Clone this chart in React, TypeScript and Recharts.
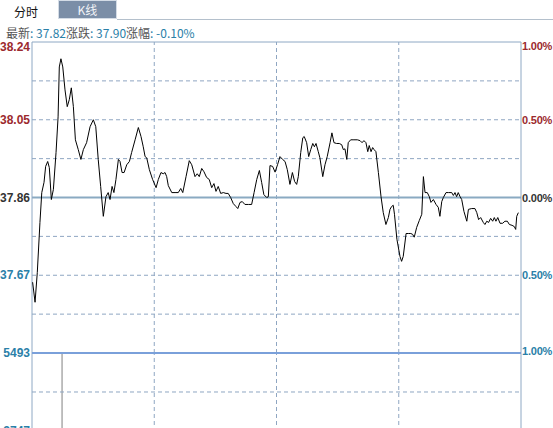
import { LineChart, Line, BarChart, Bar, XAxis, YAxis, ReferenceLine } from "recharts"

// intraday minute (0-240) and traced price
const minutes = [
  0.3, 1.5, 2.6, 3.9, 4.8, 5.9, 6.7, 7.7, 8.5, 9.5, 10.5, 11.8, 12.8, 13.4, 14.2, 15.1, 16.2, 17.3, 18.3, 19.3,
  20.3, 21.3, 22.7, 24.0, 25.2, 26.8, 28.5, 30.1, 31.3, 32.5, 33.7, 35.0, 36.3, 37.4, 38.3, 39.3, 40.2, 41.2, 42.4, 43.2,
  44.2, 45.2, 46.5, 47.8, 48.9, 50.6, 52.2, 53.5, 54.6, 55.5, 56.3, 57.6, 59.2, 60.9, 62.0, 63.3, 64.4, 65.3, 66.1, 66.9,
  68.6, 70.2, 71.8, 73.0, 74.0, 75.6, 77.2, 78.4, 80.0, 81.1, 82.1, 83.3, 84.4, 85.7, 87.0, 88.2, 89.3, 90.3, 91.4, 92.6,
  93.9, 95.2, 96.3, 97.5, 98.8, 100.1, 101.0, 102.1, 103.2, 104.5, 106.2, 107.8, 109.0, 110.3, 111.6, 112.7, 113.8, 115.2, 116.0, 116.8,
  118.1, 119.3, 120.5, 121.7, 123.0, 124.2, 125.3, 126.6, 127.8, 128.9, 129.9, 130.7, 131.9, 132.9, 133.6, 134.8, 135.8, 136.8, 137.8, 138.6,
  139.4, 140.5, 141.3, 142.7, 143.8, 144.9, 146.3, 147.2, 148.2, 149.5, 150.8, 152.0, 152.8, 153.6, 154.5, 155.2, 156.4, 158.0, 159.7, 161.0,
  162.0, 162.9, 163.9, 164.8, 165.5, 166.4, 167.2, 167.9, 168.8, 170.0, 171.3, 172.4, 173.7, 174.9, 175.7, 176.5, 177.3, 177.9, 179.1, 180.6,
  181.4, 182.2, 183.6, 184.7, 185.9, 186.8, 187.6, 188.8, 190.1, 191.3, 192.1, 192.9, 194.0, 195.0, 195.8, 197.0, 198.3, 199.4, 200.2, 201.1,
  201.9, 203.2, 204.5, 206.0, 206.8, 207.6, 208.4, 209.2, 210.1, 210.9, 212.0, 213.4, 214.2, 215.8, 217.4, 218.3, 219.2, 220.2, 221.5, 222.3,
  223.2, 224.1, 225.1, 226.1, 226.9, 227.7, 228.6, 229.7, 231.0, 232.1, 233.3, 234.3, 235.6, 236.7, 237.4, 237.9, 238.7,
]
const prices = [
  37.653, 37.604, 37.677, 37.799, 37.872, 37.897, 37.936, 37.948, 37.933, 37.855, 37.88, 37.97, 38.057, 38.179, 38.199, 38.179, 38.123, 38.082, 38.099, 38.128,
  38.082, 38.001, 37.977, 37.953, 37.977, 37.994, 38.033, 38.05, 38.033, 37.953, 37.887, 37.814, 37.862, 37.872, 37.855, 37.887, 37.872, 37.904, 37.953, 37.948,
  37.921, 37.921, 37.94, 37.948, 37.97, 38.001, 38.031, 38.009, 37.984, 37.96, 37.957, 37.928, 37.904, 37.884, 37.904, 37.921, 37.918, 37.921, 37.911, 37.889,
  37.872, 37.872, 37.872, 37.882, 37.872, 37.911, 37.95, 37.94, 37.911, 37.918, 37.911, 37.931, 37.923, 37.909, 37.904, 37.884, 37.894, 37.875, 37.887, 37.87,
  37.872, 37.87, 37.87, 37.86, 37.845, 37.838, 37.833, 37.848, 37.85, 37.843, 37.843, 37.843, 37.872, 37.904, 37.926, 37.897, 37.867, 37.86, 37.862, 37.938,
  37.936, 37.922, 37.94, 37.96, 37.953, 37.948, 37.928, 37.892, 37.921, 37.899, 37.892, 37.911, 37.97, 38.006, 38.009, 37.994, 37.96, 37.977, 37.992, 37.984,
  37.992, 37.972, 37.957, 37.911, 37.94, 37.96, 37.994, 38.018, 37.994, 37.992, 37.992, 37.989, 37.977, 37.979, 37.953, 37.994, 38.001, 38.001, 38.001, 37.999,
  37.994, 37.999, 37.994, 37.972, 37.987, 37.972, 37.982, 37.977, 37.972, 37.921, 37.862, 37.823, 37.794, 37.811, 37.831, 37.838, 37.841, 37.819, 37.758, 37.716,
  37.704, 37.716, 37.772, 37.772, 37.772, 37.77, 37.763, 37.787, 37.804, 37.819, 37.911, 37.872, 37.872, 37.862, 37.848, 37.855, 37.843, 37.836, 37.814, 37.85,
  37.86, 37.872, 37.872, 37.872, 37.865, 37.872, 37.862, 37.872, 37.862, 37.855, 37.826, 37.802, 37.831, 37.833, 37.833, 37.823, 37.806, 37.811, 37.799, 37.794,
  37.802, 37.799, 37.809, 37.802, 37.811, 37.802, 37.811, 37.797, 37.797, 37.802, 37.802, 37.794, 37.792, 37.789, 37.782, 37.814, 37.823,
]

// volume: only one bar tall enough to show in the visible area
const volMinutes = [14.5]
const volValues = [5493]

const priceTicks = [38.24, 38.05, 37.86, 37.67]
const pctTicks = [38.24, 38.05, 37.86, 37.67, 37.48]
const pctLabels = ["1.00%", "0.50%", "0.00%", "0.50%", "1.00%"]
const priceGrid = [38.145, 38.05, 37.955, 37.765, 37.67, 37.575]
const volTicks = [5493, 2747]
const volGrid = [4120, 2747]
const timeGrid = [60, 120, 180]

const PREV_CLOSE = 37.86
const RED = "#9c2a2e"
const BLUE = "#2a80a8"
const DARK = "#333333"
const DASH = "#8fa6c2"
const BORDER = "#8ea8c4"

const priceData = minutes.slice(0, prices.length).map((m, i) => ({ m, price: prices[i] }))
const volData = volMinutes.map((m, i) => ({ m, v: volValues[i] }))

const colorFor = (v: number) => (v > PREV_CLOSE + 0.001 ? RED : v < PREV_CLOSE - 0.001 ? BLUE : DARK)

const LeftTick = (props: any) => {
  const { x, y, payload } = props
  const dy = payload.value === 38.24 ? 9 : 4
  return (
    <text x={x} y={y + dy} textAnchor="end" fontSize={12} fontWeight="bold" fill={colorFor(payload.value)}>
      {payload.value.toFixed(2)}
    </text>
  )
}

const RightTick = (props: any) => {
  const { x, y, payload, index } = props
  const dy = index === 0 ? 8 : 4
  return (
    <text x={x} y={y + dy} textAnchor="start" fontSize={11} fontWeight="bold" letterSpacing={-0.2} fill={colorFor(payload.value)}>
      {pctLabels[index]}
    </text>
  )
}

const VolTick = (props: any) => {
  const { x, y, payload } = props
  return (
    <text x={x} y={y + 4} textAnchor="end" fontSize={12} fontWeight="bold" fill={BLUE}>
      {payload.value}
    </text>
  )
}

export default function App() {
  return (
    <div
      style={{
        position: "absolute",
        left: 0,
        top: 0,
        width: 553,
        height: 428,
        overflow: "hidden",
        background: "#fff",
        fontFamily: "'Liberation Sans', Arial, 'Noto Sans CJK SC', sans-serif",
      }}
    >
      {/* tabs */}
      <div style={{ position: "absolute", left: 14, top: 3, fontSize: 12, color: "#111", fontFamily: "'Noto Sans CJK SC', sans-serif" }}>
        分时
      </div>
      <div
        style={{
          position: "absolute",
          left: 58,
          top: 0,
          width: 57,
          height: 17,
          background: "#7b8ea7",
          border: "1px solid #d4dce6",
          color: "#f2f4f8",
          fontSize: 12,
          lineHeight: "17px",
          textAlign: "center",
          fontFamily: "'Noto Sans CJK SC', sans-serif",
        }}
      >
        K线
      </div>
      <div style={{ position: "absolute", left: 117, top: 19, width: 436, height: 1, background: "#b4c0cc" }} />

      {/* quote line */}
      <div
        style={{
          position: "absolute",
          left: 6,
          top: 24,
          fontSize: 12,
          whiteSpace: "nowrap",
          fontFamily: "'Noto Sans CJK SC', sans-serif",
          color: "#555",
        }}
      >
        最新<span style={{ color: BLUE }}>: 37.82</span>涨跌<span style={{ color: BLUE }}>: 37.90</span>涨幅
        <span style={{ color: BLUE }}>: -0.10%</span>
      </div>

      {/* price panel */}
      <div style={{ position: "absolute", left: 0, top: 0 }}>
        <LineChart width={553} height={360} data={priceData} margin={{ top: 42, right: 0, left: 0, bottom: 7 }}>
          <XAxis dataKey="m" type="number" domain={[0, 240]} hide />
          <YAxis
            yAxisId="l"
            domain={[37.48, 38.24]}
            ticks={priceTicks}
            width={32}
            axisLine={false}
            tickLine={false}
            tickSize={0}
            tickMargin={2}
            tick={LeftTick}
            allowDataOverflow
          />
          <YAxis
            yAxisId="r"
            orientation="right"
            domain={[37.48, 38.24]}
            ticks={pctTicks}
            width={32}
            axisLine={false}
            tickLine={false}
            tickSize={0}
            tickMargin={1}
            tick={RightTick}
            allowDataOverflow
          />
          {priceGrid.map((v) => (
            <ReferenceLine key={v} yAxisId="l" y={v} stroke={DASH} strokeDasharray="4 3" />
          ))}
          {timeGrid.map((t) => (
            <ReferenceLine key={t} yAxisId="l" x={t} stroke={DASH} strokeDasharray="4 3" />
          ))}
          <ReferenceLine yAxisId="l" y={PREV_CLOSE} stroke="#8aaac2" strokeWidth={2} />
          <ReferenceLine yAxisId="l" y={38.24} stroke={BORDER} />
          <ReferenceLine yAxisId="l" x={0} stroke={BORDER} />
          <ReferenceLine yAxisId="l" x={240} stroke={BORDER} />
          <Line
            yAxisId="l"
            dataKey="price"
            type="linear"
            stroke="#000"
            strokeWidth={1}
            dot={false}
            isAnimationActive={false}
          />
          <ReferenceLine yAxisId="l" y={37.48} stroke="#7aa0da" strokeWidth={2} />
        </LineChart>
      </div>

      {/* volume panel */}
      <div style={{ position: "absolute", left: 0, top: 343 }}>
        <BarChart width={553} height={170} data={volData} margin={{ top: 10, right: 0, left: 0, bottom: 4 }}>
          <XAxis dataKey="m" type="number" domain={[0, 240]} hide />
          <YAxis
            domain={[0, 5493]}
            ticks={volTicks}
            width={32}
            axisLine={false}
            tickLine={false}
            tickSize={0}
            tickMargin={2}
            tick={VolTick}
            allowDataOverflow
          />
          <YAxis yAxisId="r" orientation="right" width={32} tick={false} axisLine={false} tickLine={false} />
          {volGrid.map((v) => (
            <ReferenceLine key={v} y={v} stroke={DASH} strokeDasharray="4 3" />
          ))}
          {timeGrid.map((t) => (
            <ReferenceLine key={t} x={t} stroke={DASH} strokeDasharray="4 3" />
          ))}
          <ReferenceLine x={0} stroke={BORDER} />
          <ReferenceLine x={240} stroke={BORDER} />
          <Bar dataKey="v" fill="#808080" barSize={1} isAnimationActive={false} />
          <ReferenceLine y={5493} stroke="#7aa0da" strokeWidth={2} />
        </BarChart>
      </div>
    </div>
  )
}
